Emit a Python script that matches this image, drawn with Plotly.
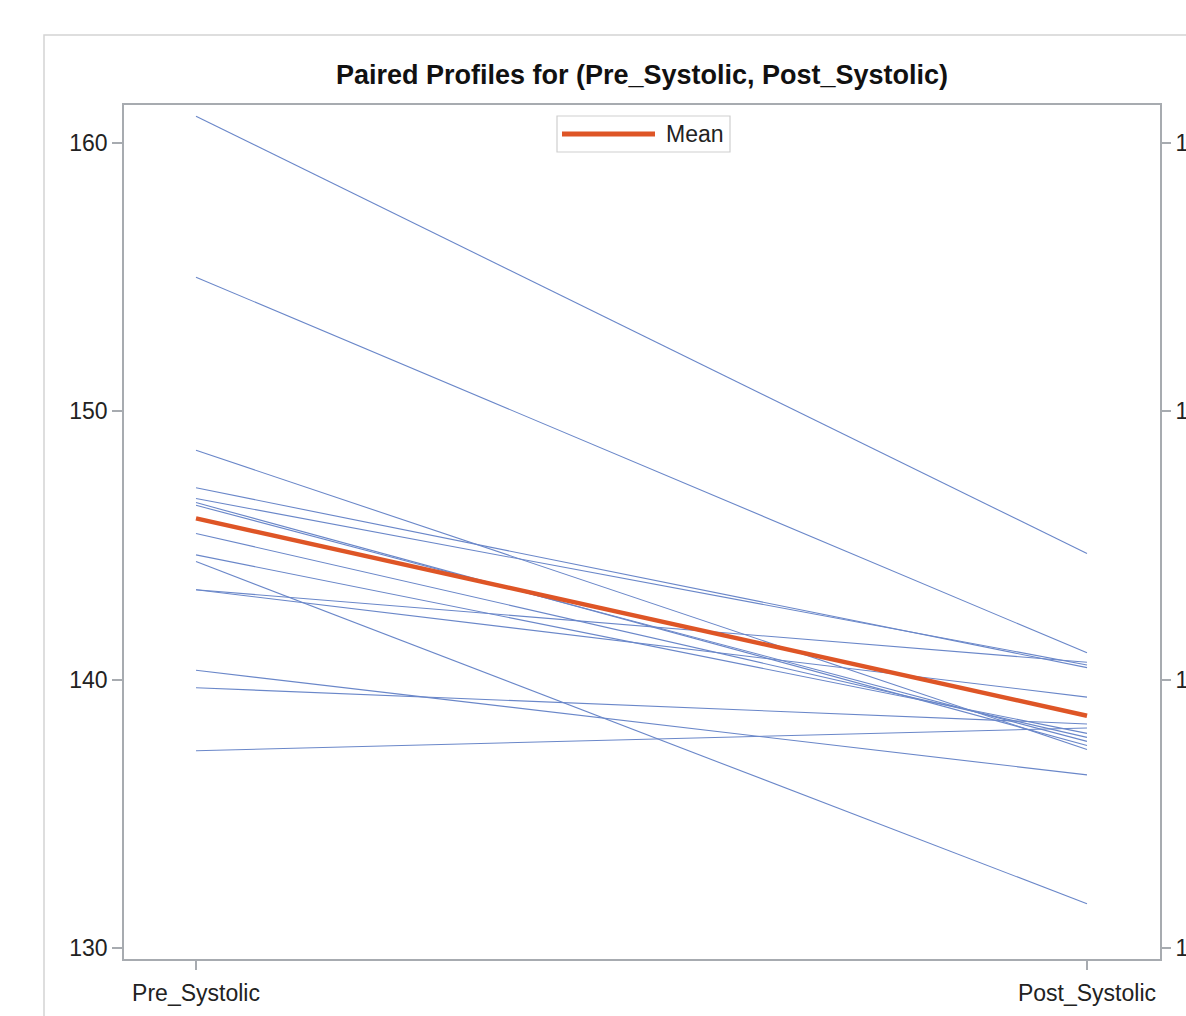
import numpy as np
import plotly.graph_objects as go

# ---- data ----
categories = ["Pre_Systolic", "Post_Systolic"]
pre_systolic = [161.0, 155.0, 148.55, 147.15, 146.75, 146.6, 146.5, 145.45,
                144.65, 144.4, 143.35, 143.35, 140.35, 139.7, 137.35]
post_systolic = [144.7, 141.0, 137.4, 140.45, 140.55, 137.55, 137.7, 137.85,
                 138.0, 131.65, 140.65, 139.35, 136.45, 138.35, 138.2]
y_ticks = [130, 140, 150, 160]
title_text = "Paired Profiles for (Pre_Systolic, Post_Systolic)"
legend_label = "Mean"

mean_pre = float(np.mean(pre_systolic))
mean_post = float(np.mean(post_systolic))

# ---- geometry ----
W, H = 1186, 1016
L, R, T, B = 124, 26, 105, 57
PW, PH = W - L - R, H - T - B


def px(x):
    return (x - L) / PW


def py(y):
    return (H - B - y) / PH


FONT = "Liberation Sans, Arial, sans-serif"
BLUE = "#6a87c9"
ORANGE = "#DE5526"
AXIS = "#a7abb0"

fig = go.Figure()
xpos = [0, 1]
for a, b in zip(pre_systolic, post_systolic):
    fig.add_trace(go.Scatter(x=xpos, y=[a, b], mode="lines",
                             line=dict(color=BLUE, width=1.1),
                             showlegend=False, hoverinfo="skip"))
fig.add_trace(go.Scatter(x=xpos, y=[mean_pre, mean_post], mode="lines",
                         line=dict(color=ORANGE, width=4.5),
                         name=legend_label, showlegend=False))
# invisible trace for the mirrored right axis
fig.add_trace(go.Scatter(x=xpos, y=[mean_pre, mean_post], yaxis="y2",
                         mode="lines", line=dict(width=0), opacity=0,
                         showlegend=False, hoverinfo="skip"))

yr = [130 - 11 / 26.8, 160 + 38 / 26.8]
xr = [-72 / 891, 1 + 73 / 891]

fig.update_layout(
    width=W, height=H, autosize=False,
    margin=dict(l=L, r=R, t=T, b=B, pad=0, autoexpand=False),
    paper_bgcolor="white", plot_bgcolor="white",
    font=dict(family=FONT, color="#222222", size=23),
    title=dict(text="<b>" + title_text + "</b>", x=0.5, xref="paper",
               y=1 - 75 / H, yref="container", yanchor="middle",
               xanchor="center", font=dict(size=27, color="#111111"),
               automargin=False),
    xaxis=dict(range=xr, tickvals=xpos, ticktext=categories,
               showgrid=False, zeroline=False, showline=True,
               linecolor=AXIS, linewidth=1.5, mirror=True, automargin=False,
               ticks="outside", ticklen=9, tickwidth=2, tickcolor=AXIS,
               ticklabelstandoff=4,
               tickfont=dict(size=23, color="#222222")),
    yaxis=dict(range=yr, tickvals=y_ticks, showgrid=False, zeroline=False,
               showline=True, linecolor=AXIS, linewidth=1.5, mirror=True,
               automargin=False,
               ticks="outside", ticklen=10, tickwidth=2, tickcolor=AXIS,
               tickfont=dict(size=23, color="#222222")),
    yaxis2=dict(range=yr, tickvals=y_ticks, overlaying="y", side="right",
                showgrid=False, zeroline=False, showline=False,
                automargin=False,
                ticks="outside", ticklen=10, tickwidth=2, tickcolor=AXIS,
                tickfont=dict(size=23, color="#222222")),
    shapes=[
        # outer graph frame (cropped in reference)
        dict(type="rect", xref="paper", yref="paper",
             x0=px(44), x1=px(W + 20), y0=py(H + 20), y1=py(35),
             line=dict(color="#d4d4d4", width=1.5), fillcolor="rgba(0,0,0,0)",
             layer="below"),
        # legend box
        dict(type="rect", xref="paper", yref="paper",
             x0=px(557), x1=px(730), y0=py(152), y1=py(116),
             line=dict(color="#cfcfcf", width=1.2), fillcolor="white"),
        dict(type="line", xref="paper", yref="paper",
             x0=px(562), x1=px(655), y0=py(134), y1=py(134),
             line=dict(color=ORANGE, width=5)),
    ],
    annotations=[
        dict(text=legend_label, xref="paper", yref="paper",
             x=px(664), y=py(134), xanchor="left", yanchor="middle",
             showarrow=False, font=dict(size=23, color="#222222")),
    ],
)

fig.write_html(
    "out.html",
    config={"responsive": False, "displayModeBar": False},
    post_script="document.body.style.margin='0';"
                "document.body.style.overflow='hidden';",
)
